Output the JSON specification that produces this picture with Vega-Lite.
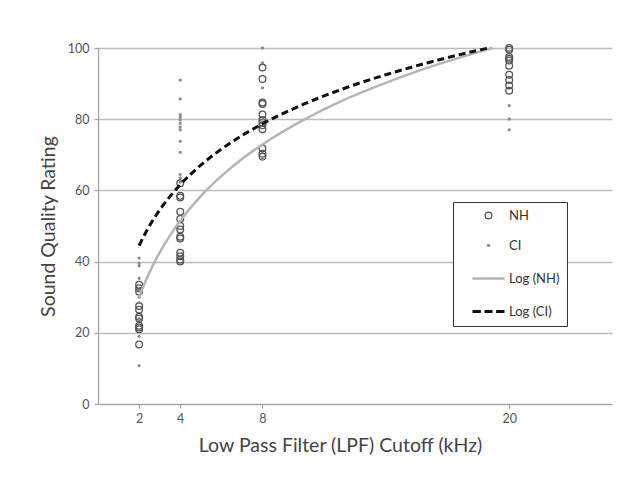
{
  "$schema": "https://vega.github.io/schema/vega-lite/v6.json",
  "width": 514,
  "height": 356,
  "autosize": {"type": "none"},
  "padding": {"left": 98, "top": 48, "right": 30, "bottom": 84},
  "background": "white",
  "config": {
    "view": {"stroke": null},
    "font": "Lato",
    "axis": {"labelFont": "Lato", "titleFont": "Lato", "titleFontWeight": "normal", "labelColor": "#555555", "titleColor": "#444444", "labelFontSize": 12.5, "titleFontSize": 19.5, "domainColor": "#a0a0a0", "tickColor": "#a0a0a0", "tickSize": 4, "domainWidth": 1.2, "tickWidth": 1.2},
    "legend": {"labelFont": "Lato"}
  },
  "datasets": {
    "pts": [
      {"series": "NH", "x": 2, "y": 33.5}, {"series": "NH", "x": 2, "y": 32.5}, {"series": "NH", "x": 2, "y": 31.5}, {"series": "NH", "x": 2, "y": 27.5}, {"series": "NH", "x": 2, "y": 26.5}, {"series": "NH", "x": 2, "y": 24.5}, {"series": "NH", "x": 2, "y": 24}, {"series": "NH", "x": 2, "y": 22}, {"series": "NH", "x": 2, "y": 21.5}, {"series": "NH", "x": 2, "y": 21}, {"series": "NH", "x": 2, "y": 16.7},
      {"series": "CI", "x": 2, "y": 41}, {"series": "CI", "x": 2, "y": 39.5}, {"series": "CI", "x": 2, "y": 38.8}, {"series": "CI", "x": 2, "y": 35.3}, {"series": "CI", "x": 2, "y": 32}, {"series": "CI", "x": 2, "y": 30}, {"series": "CI", "x": 2, "y": 28.5}, {"series": "CI", "x": 2, "y": 24}, {"series": "CI", "x": 2, "y": 19}, {"series": "CI", "x": 2, "y": 10.8},
      {"series": "NH", "x": 4, "y": 62}, {"series": "NH", "x": 4, "y": 58.5}, {"series": "NH", "x": 4, "y": 58}, {"series": "NH", "x": 4, "y": 54}, {"series": "NH", "x": 4, "y": 52}, {"series": "NH", "x": 4, "y": 50}, {"series": "NH", "x": 4, "y": 49}, {"series": "NH", "x": 4, "y": 47}, {"series": "NH", "x": 4, "y": 46.5}, {"series": "NH", "x": 4, "y": 42.5}, {"series": "NH", "x": 4, "y": 41.5}, {"series": "NH", "x": 4, "y": 40.5}, {"series": "NH", "x": 4, "y": 40},
      {"series": "CI", "x": 4, "y": 91}, {"series": "CI", "x": 4, "y": 85.7}, {"series": "CI", "x": 4, "y": 81.3}, {"series": "CI", "x": 4, "y": 80.5}, {"series": "CI", "x": 4, "y": 79.8}, {"series": "CI", "x": 4, "y": 78.8}, {"series": "CI", "x": 4, "y": 77.8}, {"series": "CI", "x": 4, "y": 77}, {"series": "CI", "x": 4, "y": 73.8}, {"series": "CI", "x": 4, "y": 70.7}, {"series": "CI", "x": 4, "y": 64.5}, {"series": "CI", "x": 4, "y": 63.5}, {"series": "CI", "x": 4, "y": 62.3},
      {"series": "NH", "x": 8, "y": 94.5}, {"series": "NH", "x": 8, "y": 91.3}, {"series": "NH", "x": 8, "y": 84.7}, {"series": "NH", "x": 8, "y": 84.3}, {"series": "NH", "x": 8, "y": 81.3}, {"series": "NH", "x": 8, "y": 79.8}, {"series": "NH", "x": 8, "y": 79}, {"series": "NH", "x": 8, "y": 78.3}, {"series": "NH", "x": 8, "y": 77.2}, {"series": "NH", "x": 8, "y": 71.8}, {"series": "NH", "x": 8, "y": 70.3}, {"series": "NH", "x": 8, "y": 69.5},
      {"series": "CI", "x": 8, "y": 100}, {"series": "CI", "x": 8, "y": 95.8}, {"series": "CI", "x": 8, "y": 88.8}, {"series": "CI", "x": 8, "y": 80}, {"series": "CI", "x": 8, "y": 79}, {"series": "CI", "x": 8, "y": 68.8},
      {"series": "NH", "x": 20, "y": 100}, {"series": "NH", "x": 20, "y": 99.5}, {"series": "NH", "x": 20, "y": 97.5}, {"series": "NH", "x": 20, "y": 97}, {"series": "NH", "x": 20, "y": 96.5}, {"series": "NH", "x": 20, "y": 95}, {"series": "NH", "x": 20, "y": 92.5}, {"series": "NH", "x": 20, "y": 91}, {"series": "NH", "x": 20, "y": 89.5}, {"series": "NH", "x": 20, "y": 88},
      {"series": "CI", "x": 20, "y": 99}, {"series": "CI", "x": 20, "y": 96}, {"series": "CI", "x": 20, "y": 83.8}, {"series": "CI", "x": 20, "y": 80}, {"series": "CI", "x": 20, "y": 77}
    ],
    "lognh": [
      {"x": 2, "y": 30.0}, {"x": 2.25, "y": 33.65}, {"x": 2.5, "y": 36.9}, {"x": 2.75, "y": 39.86}, {"x": 3, "y": 42.55}, {"x": 3.5, "y": 47.3}, {"x": 4, "y": 51.45}, {"x": 5, "y": 58.4}, {"x": 6, "y": 64.0}, {"x": 7, "y": 68.8}, {"x": 8, "y": 72.9}, {"x": 10, "y": 79.8}, {"x": 12, "y": 85.5}, {"x": 14, "y": 90.2}, {"x": 16, "y": 94.4}, {"x": 18, "y": 98.0}, {"x": 19.2, "y": 100.0}
    ],
    "logci": [
      {"x": 2, "y": 44.5}, {"x": 2.25, "y": 47.4}, {"x": 2.5, "y": 50.0}, {"x": 2.75, "y": 52.35}, {"x": 3, "y": 54.5}, {"x": 3.5, "y": 58.3}, {"x": 4, "y": 61.6}, {"x": 5, "y": 67.1}, {"x": 6, "y": 71.6}, {"x": 7, "y": 75.4}, {"x": 8, "y": 78.7}, {"x": 10, "y": 84.2}, {"x": 12, "y": 88.7}, {"x": 14, "y": 92.5}, {"x": 16, "y": 95.8}, {"x": 18, "y": 98.7}, {"x": 19, "y": 100.0}
    ]
  },
  "encoding": {
    "x": {"field": "x", "type": "quantitative", "scale": {"domain": [0, 25], "nice": false},
      "axis": {"values": [2, 4, 8, 20], "grid": false, "title": "Low Pass Filter (LPF) Cutoff (kHz)", "labelPadding": 4, "titleX": 242, "titleY": 41, "titleBaseline": "middle", "titleAlign": "center"}},
    "y": {"field": "y", "type": "quantitative", "scale": {"domain": [0, 100], "nice": false},
      "axis": {"values": [0, 20, 40, 60, 80, 100], "grid": true, "gridColor": "#bdbdbd", "gridWidth": 1.5, "title": "Sound Quality Rating", "labelPadding": 5, "titlePadding": 9}}
  },
  "layer": [
    {
      "data": {"name": "pts"},
      "mark": {"type": "point", "filled": false, "opacity": 1},
      "encoding": {
        "color": {"field": "series", "type": "nominal",
          "scale": {"domain": ["NH", "CI", "Log (NH)", "Log (CI)"], "range": ["#555555", "#888888", "#b5b5b5", "#111111"]},
          "legend": {"title": null, "orient": "none", "legendX": 355, "legendY": 154, "strokeColor": "#333333", "fillColor": "white", "padding": 7, "symbolOffset": 19, "labelOffset": 11, "labelFontSize": 13, "labelColor": "#333333", "rowPadding": 16}},
        "shape": {"field": "series", "type": "nominal",
          "scale": {"domain": ["NH", "CI", "Log (NH)", "Log (CI)"], "range": ["circle", "circle", "M-2,0H2", "M-2,0H-0.95M-0.5,0H0.5M0.95,0H2"]}},
        "size": {"field": "series", "type": "nominal",
          "scale": {"type": "ordinal", "domain": ["NH", "CI", "Log (NH)", "Log (CI)"], "range": [45, 3, 256, 256]}},
        "strokeWidth": {"field": "series", "type": "nominal",
          "scale": {"type": "ordinal", "domain": ["NH", "CI", "Log (NH)", "Log (CI)"], "range": [1.3, 1.5, 2.5, 3]}}
      }
    },
    {
      "data": {"name": "lognh"},
      "mark": {"type": "line", "color": "#b5b5b5", "strokeWidth": 2.5, "interpolate": "monotone"},
      "encoding": {}
    },
    {
      "data": {"name": "logci"},
      "mark": {"type": "line", "color": "#111111", "strokeWidth": 3, "strokeDash": [7, 4], "interpolate": "monotone"},
      "encoding": {}
    }
  ]
}
